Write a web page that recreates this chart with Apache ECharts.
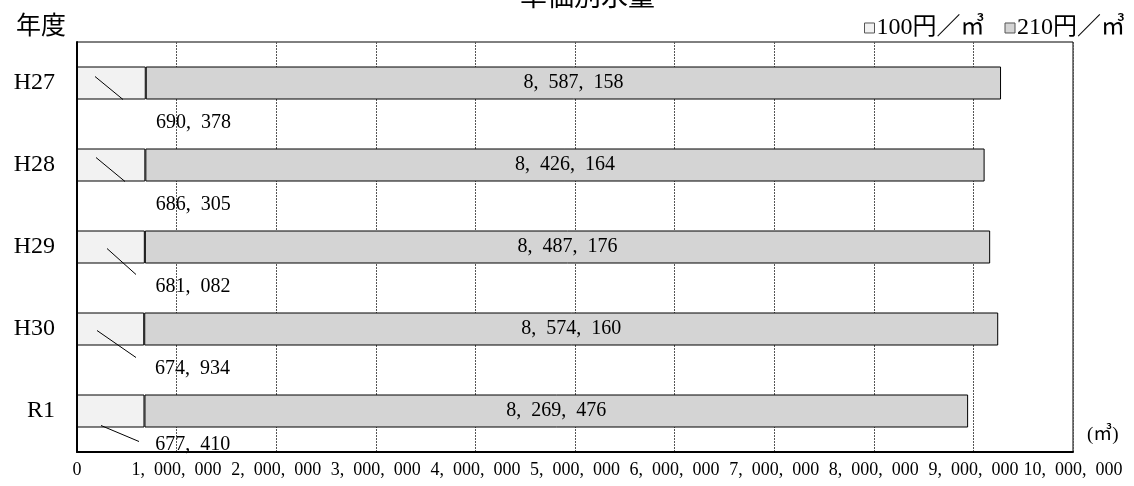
<!DOCTYPE html>
<html>
<head>
<meta charset="utf-8">
<script src="https://cdn.jsdelivr.net/npm/echarts@6/dist/echarts.min.js"></script>
<style>
  html, body { margin: 0; padding: 0; background: #fff; }
  #chart { width: 1134px; height: 486px; }
</style>
</head>
<body>
<div id="chart"></div>
<script>
const years = ['H27', 'H28', 'H29', 'H30', 'R1'];
const vol100 = [690378, 686305, 681082, 674934, 677410];
const vol210 = [8587158, 8426164, 8487176, 8574160, 8269476];
const seriesNames = ['100円／㎥', '210円／㎥'];

const FONT = "'Liberation Serif', 'Noto Sans CJK JP', serif";
// comma followed by an en space, closer to the wide mincho spacing
const fmt = v => v.toLocaleString('en-US').replace(/,/g, ',\u2002');
const BAR_H = 33;

// leader stroke offsets (px) from the bar's top-left corner: [x1, y1, x2, y2]
const leaderOffsets = [
    [18, 10, 46, 33],
    [19, 9, 48, 33],
    [30, 18, 59, 44],
    [20, 18, 59, 45],
    [24, 31, 62, 47]
];

const chart = echarts.init(document.getElementById('chart'));

function renderLeader(params, api) {
    const idx = api.value(1);
    const p = api.coord([0, idx]);
    const top = p[1] - BAR_H / 2;
    const o = leaderOffsets[idx];
    return {
        type: 'line',
        shape: { x1: p[0] + o[0], y1: top + o[1], x2: p[0] + o[2], y2: top + o[3] },
        style: { stroke: '#000', lineWidth: 1 },
        silent: true
    };
}

const option = {
    animation: false,
    textStyle: { fontFamily: FONT, color: '#000' },
    title: [
        {
            text: '単価別水量',
            left: 515,
            top: -20,
            textStyle: { fontFamily: FONT, fontSize: 27, fontWeight: 'normal', color: '#000' }
        },
        {
            text: '年度',
            left: 11,
            top: 10,
            textStyle: { fontFamily: FONT, fontSize: 25, fontWeight: 'normal', color: '#000' }
        }
    ],
    legend: {
        right: 4,
        top: 11,
        itemGap: 20,
        itemWidth: 10,
        itemHeight: 10,
        icon: 'rect',
        itemStyle: { borderColor: '#555', borderWidth: 1 },
        textStyle: { fontFamily: FONT, fontSize: 24, color: '#000', padding: [0, 0, 0, -3] },
        data: seriesNames
    },
    grid: {
        left: 77,
        right: 61,
        top: 42,
        bottom: 34,
        show: true,
        borderColor: '#000',
        borderWidth: 1
    },
    xAxis: {
        type: 'value',
        min: 0,
        max: 10000000,
        interval: 1000000,
        axisLine: { show: true, lineStyle: { color: '#000', width: 2 } },
        axisTick: { show: false },
        axisLabel: {
            fontFamily: FONT,
            fontSize: 18,
            color: '#000',
            margin: 9,
            formatter: v => fmt(v)
        },
        splitLine: { show: true, lineStyle: { color: '#555', type: [2, 1], width: 1 } }
    },
    yAxis: {
        type: 'category',
        inverse: true,
        data: years,
        axisLine: { show: true, lineStyle: { color: '#000', width: 2 } },
        axisTick: { show: false },
        axisLabel: { fontFamily: FONT, fontSize: 24, color: '#000', margin: 22 },
        splitLine: { show: false }
    },
    graphic: [
        {
            type: 'text',
            left: 1087,
            top: 426,
            style: { text: '(㎥)', font: "19px 'Liberation Serif', 'Noto Sans CJK JP', serif", fill: '#000' }
        }
    ],
    series: [
        {
            name: seriesNames[0],
            type: 'bar',
            stack: 'total',
            barWidth: BAR_H,
            data: vol100,
            itemStyle: { color: '#f2f2f2', borderColor: '#000', borderWidth: 1 },
            label: {
                show: true,
                position: 'inside',
                fontFamily: FONT,
                fontSize: 20,
                color: '#000',
                formatter: p => fmt(p.value)
            },
            labelLayout: p => ({ dx: 82, dy: p.dataIndex === years.length - 1 ? 34 : 40 })
        },
        {
            name: seriesNames[1],
            type: 'bar',
            stack: 'total',
            barWidth: BAR_H,
            data: vol210,
            itemStyle: { color: '#d4d4d4', borderColor: '#000', borderWidth: 1 },
            label: {
                show: true,
                position: 'inside',
                fontFamily: FONT,
                fontSize: 20,
                color: '#000',
                formatter: p => fmt(p.value)
            }
        },
        {
            name: 'leader',
            type: 'custom',
            renderItem: renderLeader,
            encode: { x: 0, y: 1 },
            data: years.map((y, i) => [vol100[i], i]),
            z: 5
        }
    ]
};

chart.setOption(option);
</script>
</body>
</html>
